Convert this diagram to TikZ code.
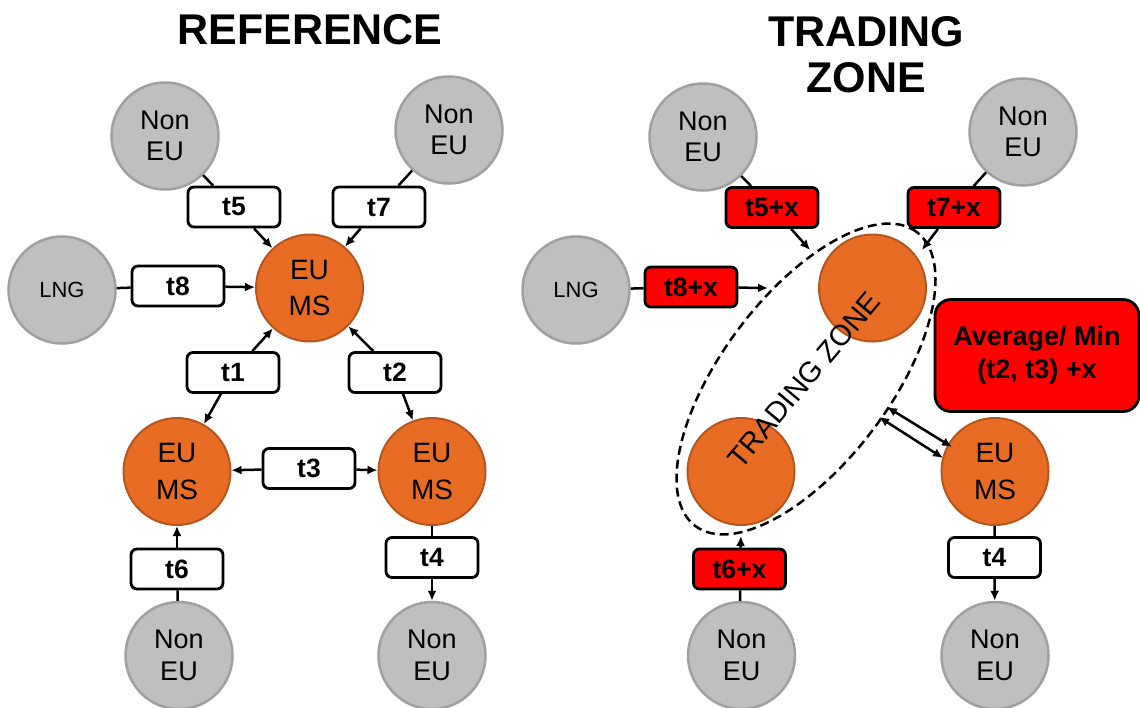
\documentclass[tikz,border=0pt]{standalone}
\usepackage{fontspec}
\setmainfont{Liberation Sans}
\usetikzlibrary{arrows.meta,shapes.geometric}
\definecolor{nodegray}{RGB}{191,191,191}
\definecolor{graybord}{RGB}{160,160,160}
\definecolor{msorange}{RGB}{233,108,36}
\definecolor{msbord}{RGB}{180,86,30}
\definecolor{zonered}{RGB}{255,0,0}
\begin{document}
\begin{tikzpicture}[x=1pt,y=-1pt,
  title/.style={font=\bfseries\fontsize{43}{46}\selectfont, anchor=base, inner sep=0},
  extnode/.style={circle, fill=nodegray, draw=graybord, line width=2.5pt, minimum size=107pt,
    inner sep=0, align=center, font=\fontsize{27}{31.5}\selectfont},
  lngnode/.style={extnode, font=\fontsize{22}{26}\selectfont},
  msnode/.style={circle, fill=msorange, draw=msbord, line width=2pt, minimum size=107pt,
    inner sep=0, align=center, font=\fontsize{28}{36.5}\selectfont},
  tbox/.style={draw=black, fill=white, rounded corners=6pt, line width=2.8pt,
    minimum width=92pt, minimum height=40pt, inner sep=0,
    font=\bfseries\fontsize{26.5}{30}\selectfont},
  rbox/.style={tbox, fill=zonered},
  link/.style={line width=2.5pt},
  flow/.style={link, -{Latex[length=10pt,width=9pt]}},
  both/.style={link, {Latex[length=10pt,width=9pt]}-{Latex[length=10pt,width=9pt]}},
  zone/.style={ellipse, draw=black, line width=2.5pt, dash pattern=on 9pt off 5pt,
    inner sep=0, minimum width=368pt, minimum height=168pt}
]
\useasboundingbox (0,0) rectangle (1140,707);

% ---------- titles ----------
\node[title] (tref) at (310,44) {REFERENCE};
\node[title] (ttz1) at (866,46) {TRADING};
\node[title] (ttz2) at (866,92) {ZONE};

% ---------- reference network ----------
\node[extnode] (ne1) at (165,136) {Non\\EU};
\node[extnode] (ne2) at (449,130) {Non\\EU};
\node[lngnode] (lng1) at (62,290) {LNG};
\node[msnode] (eu1) at (309.5,288) {EU\\MS};
\node[msnode] (eu2) at (177,471.5) {EU\\MS};
\node[msnode] (eu3) at (432,471.5) {EU\\MS};
\node[extnode] (ne3) at (179,655.5) {Non\\EU};
\node[extnode] (ne4) at (432,655.5) {Non\\EU};

\node[tbox] (t5) at (234,207) {t5};
\node[tbox] (t7) at (379,207) {t7};
\node[tbox] (t8) at (178,286) {t8};
\node[tbox] (t1) at (233,372.5) {t1};
\node[tbox] (t2) at (395,372.5) {t2};
\node[tbox] (t3) at (309,468.5) {t3};
\node[tbox] (t6) at (177,569) {t6};
\node[tbox] (t4) at (432,557.5) {t4};

\draw[link] (ne1) -- (t5);
\draw[flow] (t5) -- (eu1);
\draw[link] (ne2) -- (t7);
\draw[flow] (t7) -- (eu1);
\draw[link] (lng1) -- (t8);
\draw[flow] (t8) -- (eu1);
\draw[flow] (t1) -- (eu1);
\draw[flow] (t1) -- (eu2);
\draw[flow] (t2) -- (eu1);
\draw[flow] (t2) -- (eu3);
\draw[flow] (t3) -- (eu2);
\draw[flow] (t3) -- (eu3);
\draw[link] (ne3) -- (t6);
\draw[flow] (t6) -- (eu2);
\draw[link] (eu3) -- (t4);
\draw[flow] (t4) -- (ne4);

% ---------- trading zone network ----------
\node[extnode] (ne5) at (703,137) {Non\\EU};
\node[extnode] (ne6) at (1023,132) {Non\\EU};
\node[lngnode] (lng2) at (576,290) {LNG};
\node[msnode] (eu4) at (872.5,288) {};
\node[msnode] (eu5) at (741,471.5) {};
\node[msnode] (eu6) at (995,471.5) {EU\\MS};
\node[extnode] (ne7) at (741.5,655.5) {Non\\EU};
\node[extnode] (ne8) at (995,655.5) {Non\\EU};

\node[rbox] (t5x) at (772,207.5) {t5+x};
\node[rbox] (t7x) at (954,207.5) {t7+x};
\node[rbox] (t8x) at (691,287) {t8+x};
\node[rbox] (t6x) at (739.5,569) {t6+x};
\node[tbox] (t4b) at (994.5,557.5) {t4};
\node[rbox, minimum width=204pt, minimum height=112pt, rounded corners=16pt, align=center,
  font=\bfseries\fontsize{27}{33}\selectfont] (avg) at (1037,355.5) {Average/ Min\\(t2, t3) +x};

% dashed trading zone around the two member states
\node[zone, rotate=53] (tz) at (806,379) {};
\node[rotate=50, inner sep=0, font=\fontsize{29}{32}\selectfont] (tzlabel) at (804,380) {TRADING ZONE};

% points where the incoming flows meet the zone
\coordinate (z5) at (810,250);
\coordinate (z7) at (922,250);
\coordinate (z8) at (768,288);
\coordinate (z6) at (741,536);
\coordinate (za1) at (887,407);
\coordinate (za2) at (952,447);
\coordinate (zb1) at (879,417);
\coordinate (zb2) at (943,458);

\draw[link] (ne5) -- (t5x);
\draw[flow] (t5x) -- (z5);
\draw[link] (ne6) -- (t7x);
\draw[flow] (t7x) -- (z7);
\draw[link] (lng2) -- (t8x);
\draw[flow] (t8x) -- (z8);
\draw[link] (ne7) -- (t6x);
\draw[flow] (t6x) -- (z6);
\draw[link] (eu6) -- (t4b);
\draw[flow] (t4b) -- (ne8);
\draw[both] (za1) -- (za2);
\draw[both] (zb1) -- (zb2);
\end{tikzpicture}
\end{document}
